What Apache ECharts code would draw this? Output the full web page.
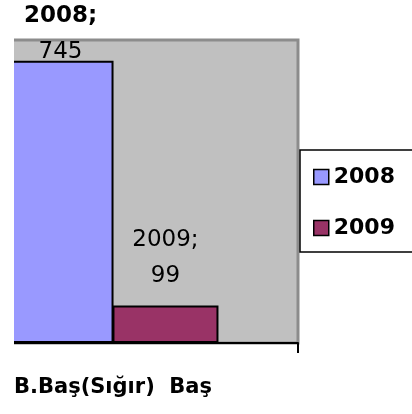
<!DOCTYPE html>
<html lang="tr">
<head>
<meta charset="UTF-8">
<title>B.Baş</title>
<script src="https://cdn.jsdelivr.net/npm/echarts@6.0.0/dist/echarts.min.js"></script>
<style>
  html, body { margin: 0; padding: 0; background: #fff; }
  #main { width: 412px; height: 414px; }
</style>
</head>
<body>
<div id="main"></div>
<script>
// data
const categories = ['B.Baş(Sığır)  Baş'];
const seriesNames = ['2008', '2009'];
const values2008 = [745];
const values2009 = [99];
const colors = ['#9999ff', '#993366'];

const font = 'DejaVu Sans';
const chart = echarts.init(document.getElementById('main'));

function labelFor(name, value, dy, boldName) {
  return {
    show: true,
    position: 'top',
    distance: 0,
    offset: [0, dy],
    formatter: () => (boldName ? '{b|' + name + ';}' : '{n|' + name + ';}') + '\n{n|' + value + '}',
    rich: {
      b: { fontFamily: font, fontWeight: 'bold', fontSize: 23, color: '#000', lineHeight: 36 },
      n: { fontFamily: font, fontSize: 23, color: '#000', lineHeight: 36 }
    }
  };
}

const option = {
  animation: false,
  grid: {
    left: -72, right: 114, top: 40, bottom: 71,
    outerBoundsMode: 'none',
    containLabel: false,
    show: true,
    backgroundColor: '#c0c0c0',
    borderColor: '#8c8c8c',
    borderWidth: 3
  },
  legend: {
    orient: 'vertical',
    left: 300, top: 150,
    padding: [16, 60, 13, 13],
    itemGap: 29,
    itemWidth: 15, itemHeight: 15,
    borderColor: '#000', borderWidth: 1.5,
    icon: 'rect',
    itemStyle: { borderColor: '#000', borderWidth: 1.5 },
    textStyle: { fontFamily: font, fontWeight: 'bold', fontSize: 22, color: '#000' },
    data: seriesNames
  },
  xAxis: {
    type: 'category',
    data: categories,
    boundaryGap: true,
    axisLine: { lineStyle: { color: '#000', width: 2 } },
    axisTick: { show: true, interval: 0, alignWithLabel: false, length: 10, lineStyle: { color: '#000', width: 2 } },
    axisLabel: { margin: 34, fontFamily: font, fontWeight: 'bold', fontSize: 21, color: '#000' }
  },
  yAxis: {
    type: 'value', min: 0, max: 800, show: false,
    splitLine: { show: false }
  },
  series: [
    {
      name: seriesNames[0], type: 'bar', barWidth: 106, barGap: '-1%',
      itemStyle: { color: colors[0], borderColor: '#000', borderWidth: 2 },
      data: values2008.map(v => ({ value: v, label: labelFor(seriesNames[0], v, 9, true) }))
    },
    {
      name: seriesNames[1], type: 'bar', barWidth: 106, barGap: '-1%',
      itemStyle: { color: colors[1], borderColor: '#000', borderWidth: 2 },
      data: values2009.map(v => ({ value: v, label: labelFor(seriesNames[1], v, -11, false) }))
    }
  ],
  graphic: [
    { type: 'rect', shape: { x: 0, y: 30, width: 14, height: 320 }, style: { fill: '#fff' }, z: 100 }
  ]
};

chart.setOption(option);
</script>
</body>
</html>
